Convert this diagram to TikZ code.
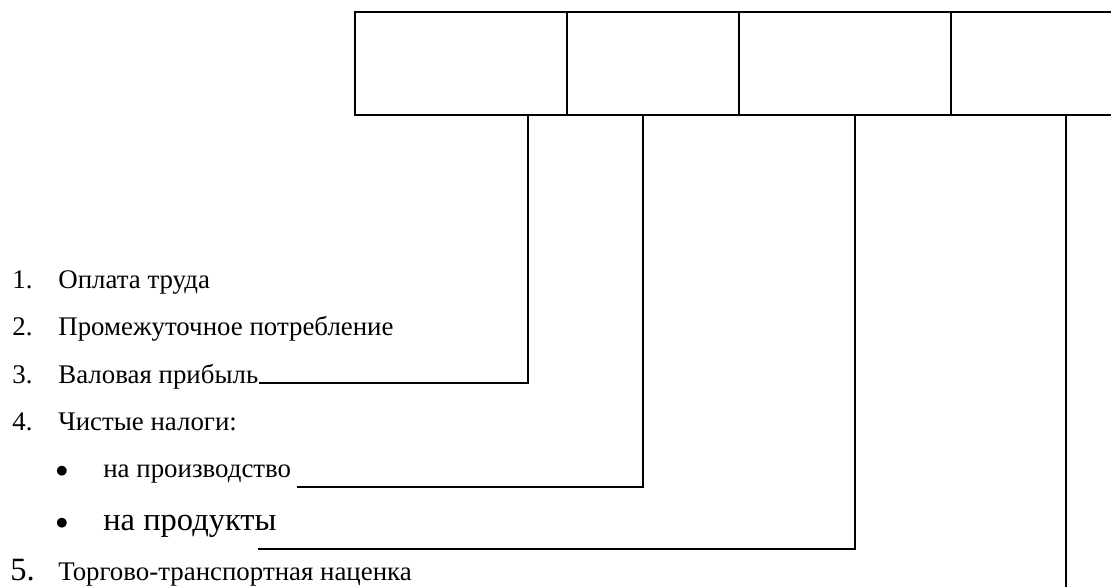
\documentclass[tikz,border=0pt]{standalone}
\usepackage{fontspec}
\setmainfont{Liberation Serif}
\usepackage{tikz}
\usetikzlibrary{positioning,calc}

\tikzset{
  cell/.style={draw, line width=1.1pt, inner sep=0pt, minimum height=2.06cm},
  item/.style={anchor=base west, inner sep=0pt, font=\fontsize{15.3}{18}\selectfont},
  bigitem/.style={anchor=base west, inner sep=0pt, font=\fontsize{18.5}{21}\selectfont},
  dot/.style={inner sep=0pt, font=\fontsize{15}{15}\selectfont},
  link/.style={line width=1pt}
}

\begin{document}
\begin{tikzpicture}[x=0.02cm, y=-0.02cm]
    \useasboundingbox (0,0) rectangle (1111,587);
    \clip (0,0) rectangle (1111,587);

    % Top row of cells
    \node[cell, minimum width=4.24cm] (b1) at (461,63.5) {};
    \node[cell, minimum width=3.44cm] (b2) at (653,63.5) {};
    \node[cell, minimum width=4.24cm] (b3) at (845,63.5) {};
    \node[cell, minimum width=4.24cm] (b4) at (1057,63.5) {};

    % List
    \node[item] (n1) at (12,289) {1.};
    \node[item] (t1) at (58,289) {Оплата труда};
    \node[item] (n2) at (12,336) {2.};
    \node[item] (t2) at (58,336) {Промежуточное потребление};
    \node[item] (n3) at (12,383) {3.};
    \node[item] (t3) at (58,383) {Валовая прибыль};
    \node[item] (n4) at (12,430) {4.};
    \node[item] (t4) at (58,430) {Чистые налоги:};
    \node[dot] (p1) at (62,472) {$\bullet$};
    \node[item] (t5) at (103,477) {на производство};
    \node[dot] (p2) at (62,524) {$\bullet$};
    \node[bigitem] (t6) at (103,530) {на продукты};
    \node[bigitem] (n5) at (10,580) {5.};
    \node[item] (t7) at (58,580) {Торгово-транспортная наценка};

    % Drop points under the cells and line ends
    \coordinate (d1) at (528,115);
    \coordinate (d2) at (643,115);
    \coordinate (d3) at (855,115);
    \coordinate (d4) at (1066,115);
    \coordinate (e2) at (297,487);
    \coordinate (e3) at (258,549);
    \coordinate (e4) at (1066,600);

    % Connectors
    \draw[link] (d1) |- (t3.base east);
    \draw[link] (d2) |- (e2);
    \draw[link] (d3) |- (e3);
    \draw[link] (d4) -- (e4);
\end{tikzpicture}
\end{document}
